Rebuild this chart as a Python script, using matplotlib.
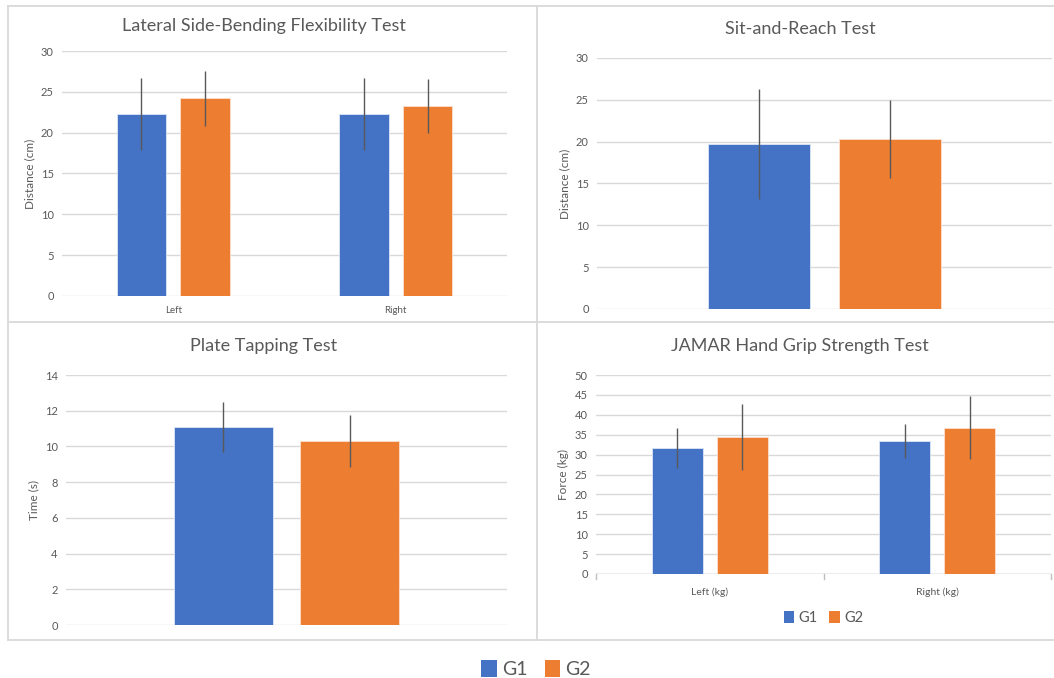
import matplotlib.pyplot as plt
from matplotlib.lines import Line2D
from matplotlib.patches import Patch

# Lateral side-bending (cm)
lat_cats = ['Left', 'Right']
lat_g1 = [22.3, 22.3]
lat_g1_sd = [4.4, 4.4]
lat_g2 = [24.2, 23.3]
lat_g2_sd = [3.4, 3.3]

# Sit-and-reach (cm)
sr_g1 = [19.7]
sr_g1_sd = [6.6]
sr_g2 = [20.3]
sr_g2_sd = [4.7]

# Plate tapping (s)
pt_g1 = [11.1]
pt_g1_sd = [1.4]
pt_g2 = [10.3]
pt_g2_sd = [1.45]

# JAMAR hand grip (kg)
hg_cats = ['Left (kg)', 'Right (kg)']
hg_g1 = [31.7, 33.4]
hg_g1_sd = [5.1, 4.3]
hg_g2 = [34.5, 36.8]
hg_g2_sd = [8.3, 7.8]

BLUE = '#4472C4'
ORANGE = '#ED7D31'
GRID = '#d9d9d9'
TXT = '#595959'
FONT = 'Lato'

W, H = 1054, 678
fig = plt.figure(figsize=(W / 100, H / 100), dpi=100)
fig.patch.set_facecolor('white')


def px_axes(x0, x1, y0, y1):
    """axes from pixel box (top-left origin)"""
    return fig.add_axes([x0 / W, 1 - y1 / H, (x1 - x0) / W, (y1 - y0) / H])


def draw_panel(ax, cats, g1, g1_sd, g2, g2_sd, ymax, ystep, ylabel, title,
               title_xy, xlabels=True):
    n = len(g1)
    xs = list(range(n))
    w = 0.224
    off = 0.143
    ax.bar([x - off for x in xs], g1, width=w, color=BLUE, edgecolor='#dce6f5',
           linewidth=0.6, zorder=3)
    ax.bar([x + off for x in xs], g2, width=w, color=ORANGE, edgecolor='#fbe0cf',
           linewidth=0.6, zorder=3)
    ax.errorbar([x - off for x in xs], g1, yerr=g1_sd, fmt='none',
                ecolor='#595959', elinewidth=1.0, capsize=0, zorder=4)
    ax.errorbar([x + off for x in xs], g2, yerr=g2_sd, fmt='none',
                ecolor='#595959', elinewidth=1.0, capsize=0, zorder=4)
    ax.set_xlim(-0.5, n - 0.5)
    ax.set_ylim(0, ymax)
    ax.set_yticks(range(0, ymax + 1, ystep))
    ax.yaxis.grid(True, color=GRID, linewidth=1.0, zorder=0)
    ax.set_axisbelow(True)
    for s in ax.spines.values():
        s.set_visible(False)
    ax.tick_params(axis='y', length=0, labelsize=8, labelcolor=TXT, pad=6)
    if xlabels and cats is not None:
        ax.set_xticks(xs)
        ax.set_xticklabels(cats, fontsize=7, color=TXT, family=FONT)
        ax.tick_params(axis='x', length=0, pad=7)
    else:
        ax.set_xticks([])
    for lab in ax.get_yticklabels():
        lab.set_family(FONT)
    ax.set_ylabel(ylabel, fontsize=8.5, color=TXT, family=FONT, labelpad=4)
    # titles sit centred on the chart box, not the plot area
    fig.text(title_xy[0] / W, 1 - title_xy[1] / H, title, ha='center',
             va='center', fontsize=13, color=TXT, family=FONT)


ax1 = px_axes(62, 507, 51, 296)
draw_panel(ax1, lat_cats, lat_g1, lat_g1_sd, lat_g2, lat_g2_sd, 30, 5,
           'Distance (cm)', 'Lateral Side-Bending Flexibility Test', (264, 26))

ax2 = px_axes(597, 1052, 58, 309)
draw_panel(ax2, None, sr_g1, sr_g1_sd, sr_g2, sr_g2_sd, 30, 5,
           'Distance (cm)', 'Sit-and-Reach Test', (800, 29), xlabels=False)

ax3 = px_axes(66, 507, 375, 625)
draw_panel(ax3, None, pt_g1, pt_g1_sd, pt_g2, pt_g2_sd, 14, 2,
           'Time (s)', 'Plate Tapping Test', (264, 346), xlabels=False)

ax4 = px_axes(596, 1051, 375, 574)
draw_panel(ax4, hg_cats, hg_g1, hg_g1_sd, hg_g2, hg_g2_sd, 50, 5,
           'Force (kg)', 'JAMAR Hand Grip Strength Test', (800, 346))
# category axis line with boundary ticks
ax4.axhline(0, color='#bfbfbf', linewidth=1.0, zorder=2)
for xb in [-0.5, 0.5, 1.5]:
    ax4.plot([xb, xb], [0, -1.2], color='#bfbfbf', linewidth=1.0,
             clip_on=False, zorder=2)
ax4.tick_params(axis='x', pad=10, labelsize=7.5)

handles = [Patch(facecolor=BLUE), Patch(facecolor=ORANGE)]
ax4.legend(handles, ['G1', 'G2'], loc='center', bbox_to_anchor=(0.5, -0.22),
           ncol=2, frameon=False, handlelength=0.7,
           handleheight=0.9, handletextpad=0.3, columnspacing=0.8,
           labelcolor=TXT, prop={'family': FONT, 'size': 10.5})

fig.legend(handles, ['G1', 'G2'], loc='center',
           bbox_to_anchor=(536 / W, 1 - 669 / H), ncol=2, frameon=False,
           handlelength=0.8, handleheight=1.0, handletextpad=0.25,
           columnspacing=0.9, labelcolor=TXT,
           prop={'family': FONT, 'size': 14})

# panel borders
bc = '#d9d9d9'
for (xa, ya, xb, yb) in [(8, 6, 1054, 6), (8, 640, 1054, 640), (8, 6, 8, 640),
                         (8, 322, 1054, 322), (537, 6, 537, 640)]:
    fig.add_artist(Line2D([xa / W, xb / W], [1 - ya / H, 1 - yb / H],
                          color=bc, linewidth=1.3, transform=fig.transFigure))

fig.savefig('out.png', dpi=100, facecolor='white')
